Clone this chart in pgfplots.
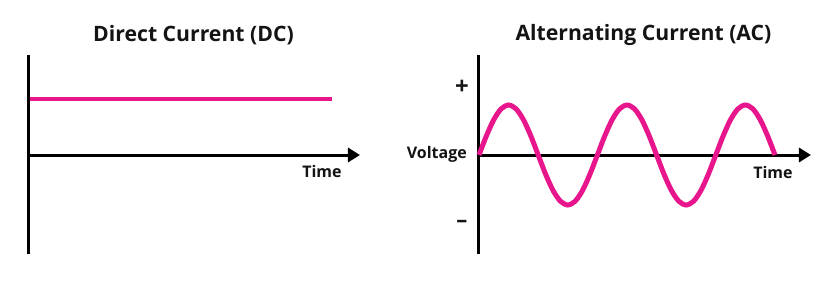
\documentclass[border=0pt]{standalone}
\usepackage{fontspec}
\setmainfont{Open Sans}
\usepackage{pgfplots}
\pgfplotsset{compat=1.18}
\usetikzlibrary{arrows.meta}
\definecolor{acpink}{RGB}{232,22,140}
\definecolor{txt}{RGB}{20,20,20}
\begin{document}
\begin{tikzpicture}
\useasboundingbox (0,0) rectangle (413.5pt,148pt);
\fill[white] (0,0) rectangle (413.5pt,148pt);
\node[txt, font=\fontsize{10.6pt}{12pt}\selectfont\bfseries] at (96.75pt,130.5pt) {Direct Current (DC)};
\node[txt, font=\fontsize{10.6pt}{12pt}\selectfont\bfseries] at (321.75pt,130.5pt) {Alternating Current (AC)};
% DC panel
\begin{axis}[
  at={(2.16pt,15.5pt)}, anchor=south west,
  x=59.2pt, y=25pt, xmin=-0.2, xmax=3.0, ymin=-2.2, ymax=2.2,
  hide axis, clip=false]
\draw[line width=1.5pt] (axis cs:0,2.0) -- (axis cs:0,-1.98);
\draw[line width=1.5pt,-{Triangle[length=6pt,width=7pt]}] (axis cs:0,0) -- (axis cs:2.804,0);
\addplot[acpink, line width=2.2pt] coordinates {(0.013,1.12) (2.568,1.12)};
\node[txt, font=\fontsize{8pt}{9pt}\selectfont\bfseries] at (axis cs:2.483,-0.33) {Time};
\end{axis}
% AC panel
\begin{axis}[
  at={(203.98pt,15.5pt)}, anchor=south west,
  x=59.2pt, y=25pt, xmin=-0.6, xmax=3.0, ymin=-2.2, ymax=2.2,
  hide axis, clip=false]
\draw[line width=1.5pt] (axis cs:0,2.0) -- (axis cs:0,-1.98);
\draw[line width=1.5pt,-{Triangle[length=6pt,width=7pt]}] (axis cs:0,0) -- (axis cs:2.804,0);
\addplot[acpink, line width=2.5pt, smooth] coordinates {
(0,0) (0.0625,0.3827) (0.125,0.7071) (0.1875,0.9239) (0.25,1) (0.3125,0.9239) (0.375,0.7071) (0.4375,0.3827)
(0.5,0) (0.5625,-0.3827) (0.625,-0.7071) (0.6875,-0.9239) (0.75,-1) (0.8125,-0.9239) (0.875,-0.7071) (0.9375,-0.3827)
(1,0) (1.0625,0.3827) (1.125,0.7071) (1.1875,0.9239) (1.25,1) (1.3125,0.9239) (1.375,0.7071) (1.4375,0.3827)
(1.5,0) (1.5625,-0.3827) (1.625,-0.7071) (1.6875,-0.9239) (1.75,-1) (1.8125,-0.9239) (1.875,-0.7071) (1.9375,-0.3827)
(2,0) (2.0625,0.3827) (2.125,0.7071) (2.1875,0.9239) (2.25,1) (2.3125,0.9239) (2.375,0.7071) (2.4375,0.3827)
(2.5,0)};
\node[txt, font=\fontsize{8pt}{9pt}\selectfont\bfseries] at (axis cs:2.483,-0.34) {Time};
\node[txt, font=\fontsize{8pt}{9pt}\selectfont\bfseries, anchor=east, inner sep=0pt] at (axis cs:-0.10,0.02) {Voltage};
\node[txt, font=\fontsize{12pt}{13pt}\selectfont\bfseries] at (axis cs:-0.144,1.36) {+};
\node[txt, font=\fontsize{11pt}{12pt}\selectfont\bfseries] at (axis cs:-0.144,-1.38) {\textendash};
\end{axis}
\end{tikzpicture}
\end{document}
